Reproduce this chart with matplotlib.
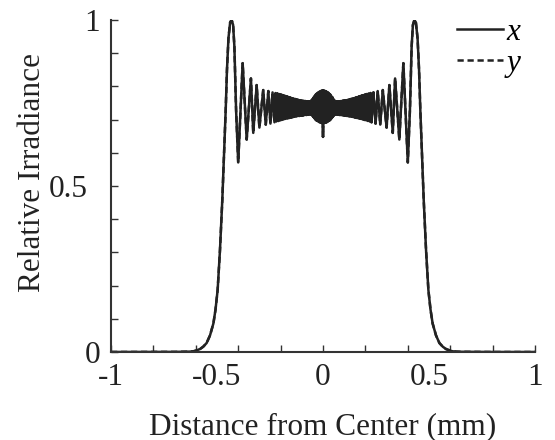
import matplotlib
matplotlib.use("Agg")
import matplotlib.pyplot as plt
import matplotlib.transforms as mtransforms
from matplotlib.ticker import FixedLocator, MultipleLocator

plt.rcParams['font.family'] = ['Liberation Serif', 'DejaVu Serif']

# ---- data (left half incl. centre; profile is symmetric) ----
# outer tail, rising edge, main peak and resolved fringes
pos_edge = [-1.000, -0.800, -0.700, -0.650, -0.630, -0.612, -0.600, -0.580, -0.565,
            -0.549, -0.533, -0.517, -0.507, -0.497, -0.486, -0.475, -0.466, -0.459,
            -0.453, -0.446, -0.438, -0.431, -0.424, -0.418, -0.410, -0.400, -0.379,
            -0.360, -0.340, -0.329, -0.313, -0.300, -0.282, -0.270, -0.258, -0.248,
            -0.238, -0.229]
irr_edge = [0.000, 0.000, 0.0003, 0.0006, 0.001, 0.002, 0.004, 0.009, 0.016,
            0.027, 0.050, 0.086, 0.128, 0.187, 0.307, 0.458, 0.608, 0.729,
            0.850, 0.945, 0.993, 1.000, 0.985, 0.920, 0.729, 0.571, 0.870,
            0.640, 0.824, 0.660, 0.804, 0.676, 0.789, 0.685, 0.786, 0.688,
            0.782, 0.692]
# dense fringes toward the centre (alternating maxima / minima)
pos_dense = [-0.2245, -0.220, -0.2155, -0.211, -0.207, -0.203, -0.199, -0.195,
             -0.191, -0.187, -0.1835, -0.180, -0.1765, -0.173, -0.1695, -0.166,
             -0.1625, -0.159, -0.1555, -0.152, -0.149, -0.146, -0.143, -0.140,
             -0.137, -0.134, -0.131, -0.128, -0.1255, -0.123, -0.120, -0.117,
             -0.1145, -0.112, -0.1095, -0.107, -0.104, -0.101, -0.0985, -0.096,
             -0.094, -0.092, -0.0895, -0.087, -0.0845, -0.082, -0.0795, -0.077,
             -0.075, -0.073, -0.071, -0.069, -0.067, -0.065, -0.0625, -0.060,
             -0.058, -0.056]
irr_dense = [0.780, 0.695, 0.779, 0.696, 0.777, 0.698, 0.776, 0.699,
             0.774, 0.701, 0.773, 0.702, 0.771, 0.703, 0.770, 0.704,
             0.768, 0.705, 0.767, 0.706, 0.765, 0.707, 0.764, 0.708,
             0.763, 0.709, 0.762, 0.710, 0.761, 0.710, 0.760, 0.711,
             0.759, 0.711, 0.758, 0.712, 0.758, 0.712, 0.757, 0.713,
             0.757, 0.713, 0.756, 0.714, 0.756, 0.714, 0.755, 0.714,
             0.755, 0.715, 0.755, 0.715, 0.755, 0.716, 0.755, 0.716,
             0.756, 0.715]
# central bulge with the dip at 0
pos_core = [-0.054, -0.052, -0.0495, -0.047, -0.0445, -0.042, -0.0395, -0.037,
            -0.0345, -0.032, -0.0295, -0.027, -0.0245, -0.022, -0.0195, -0.017,
            -0.0145, -0.012, -0.010, -0.008, -0.006, -0.004, -0.002, 0.000]
irr_core = [0.758, 0.713, 0.762, 0.709, 0.767, 0.705, 0.771, 0.701,
            0.775, 0.698, 0.778, 0.696, 0.781, 0.694, 0.783, 0.692,
            0.785, 0.691, 0.786, 0.690, 0.787, 0.690, 0.788, 0.648]

x_tick_vals = [-1, -0.5, 0, 0.5, 1]
x_tick_labels = ['-1', '-0.5', '0', '0.5', '1']
y_tick_vals = [0, 0.5, 1]
y_tick_labels = ['0', '0.5', '1']

# full profiles (right half mirrors the left half)
pos_left = pos_edge + pos_dense + pos_core
irr_left = irr_edge + irr_dense + irr_core
pos = pos_left + [-v for v in reversed(pos_left[:-1])]
irr_x = irr_left + list(reversed(irr_left[:-1]))
irr_y = list(irr_x)  # y profile coincides with x at this scale

fig = plt.figure(figsize=(5.55, 4.4), dpi=100)
ax = fig.add_axes([0.2, 0.2, 0.764, 0.7545])

ax.plot(pos, irr_y, color='#222222', lw=1.8, ls=(0, (2.5, 1.5)), label='y')
ax.plot(pos, irr_x, color='#222222', lw=1.8, ls='-', label='x')

ax.set_xlim(-1, 1)
ax.set_ylim(0, 1)
for s in ['top', 'right']:
    ax.spines[s].set_visible(False)
for s in ['left', 'bottom']:
    ax.spines[s].set_color('#333333')
    ax.spines[s].set_linewidth(1.5)

fs = 22.5
ax.xaxis.set_major_locator(FixedLocator(x_tick_vals))
ax.set_xticklabels(x_tick_labels)
ax.xaxis.set_minor_locator(MultipleLocator(0.2))
ax.yaxis.set_major_locator(FixedLocator(y_tick_vals))
ax.set_yticklabels(y_tick_labels)
ax.yaxis.set_minor_locator(MultipleLocator(0.1))
ax.xaxis.remove_overlapping_locs = False
ax.yaxis.remove_overlapping_locs = False
ax.tick_params(which='major', length=0, labelsize=fs, colors='#222222')
ax.tick_params(axis='x', which='major', pad=8)
ax.tick_params(axis='y', which='major', pad=8)
ax.tick_params(which='minor', direction='in', length=5, width=1, color='#333333')

# the "0.5" label sits a little further left in the original
mid_lab = ax.yaxis.get_major_ticks()[1].label1
mid_lab.set_transform(mid_lab.get_transform() +
                      mtransforms.ScaledTranslation(-0.12, 0, fig.dpi_scale_trans))

ax.set_xlabel('Distance from Center (mm)', fontsize=fs, color='#222222')
ax.set_ylabel('Relative Irradiance', fontsize=fs, color='#222222')
ax.xaxis.set_label_coords(0.5, -0.182)
ax.yaxis.set_label_coords(-0.152, 0.542)

handles, labels = ax.get_legend_handles_labels()
order = [1, 0]
leg = ax.legend([handles[i] for i in order], [labels[i] for i in order],
                loc='upper right', bbox_to_anchor=(0.995, 1.045), frameon=False,
                prop={'family': 'Liberation Serif', 'style': 'italic', 'size': fs},
                handlelength=1.5, handletextpad=0.1, labelspacing=0.08,
                borderaxespad=0.0)

fig.savefig('out.png', dpi=100)
